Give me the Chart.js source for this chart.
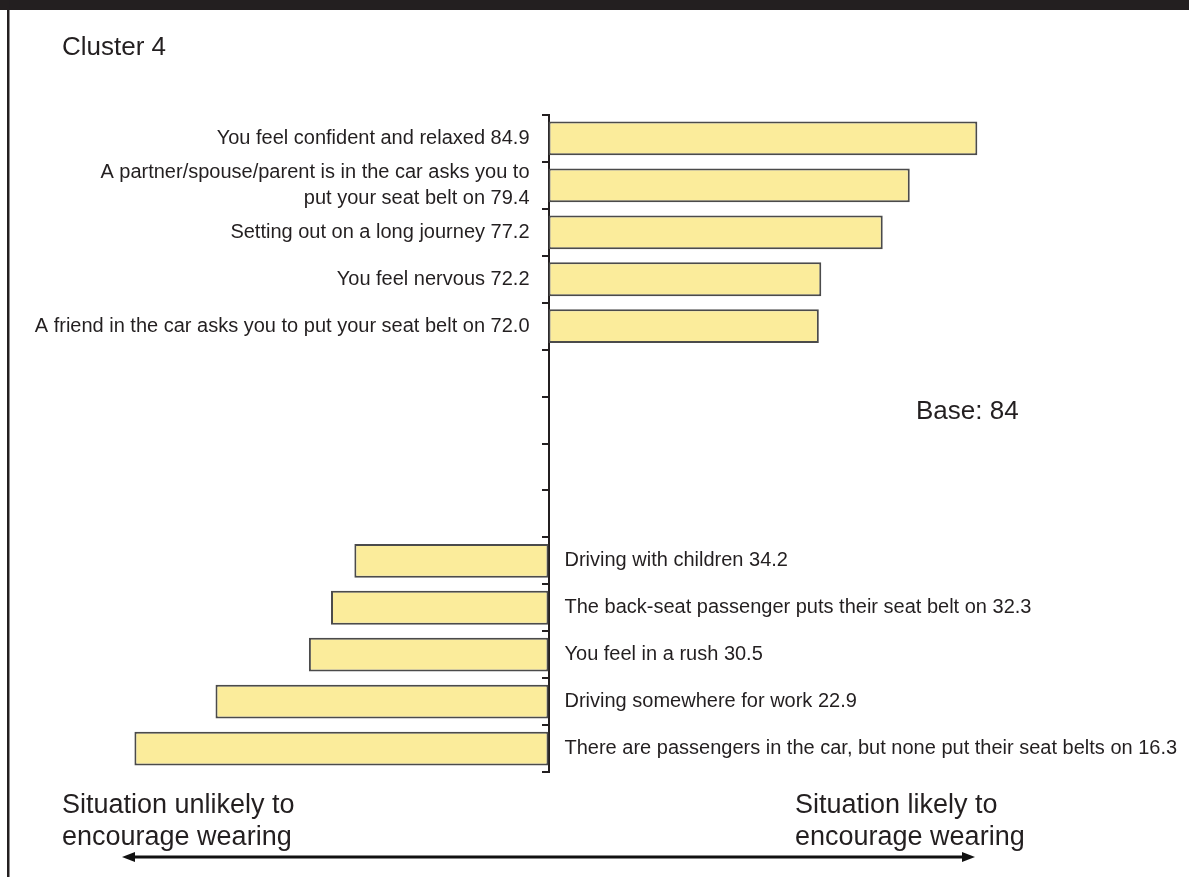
<!DOCTYPE html>
<html>
<head>
<meta charset="utf-8">
<script src="https://cdn.jsdelivr.net/npm/chart.js@4"></script>
<style>
  html, body { margin: 0; padding: 0; background: #fff; }
  #wrap { position: relative; width: 1189px; height: 877px; }
</style>
</head>
<body>
<div id="wrap"><canvas id="clusterChart"></canvas></div>
<script>
// situations that push wearing up (bars to the right of the midpoint)
const likelyLabels = [
  'You feel confident and relaxed',
  ['A partner/spouse/parent is in the car asks you to', 'put your seat belt on'],
  'Setting out on a long journey',
  'You feel nervous',
  'A friend in the car asks you to put your seat belt on',
];
const likelyValues = [84.9, 79.4, 77.2, 72.2, 72.0];

// situations that push wearing down (bars to the left of the midpoint)
const unlikelyLabels = [
  'Driving with children',
  'The back-seat passenger puts their seat belt on',
  'You feel in a rush',
  'Driving somewhere for work',
  'There are passengers in the car, but none put their seat belts on',
];
const unlikelyValues = [34.2, 32.3, 30.5, 22.9, 16.3];

const midpoint = 50;
const emptyRows = 4;

const labels = [...likelyLabels, ...Array(emptyRows).fill(''), ...unlikelyLabels];
const values = [...likelyValues, ...Array(emptyRows).fill(null), ...unlikelyValues];

const textColor = '#231f20';
const fontFamily = '"Liberation Sans", Arial, Helvetica, sans-serif';

const barLabels = {
  id: 'barLabels',
  afterDatasetsDraw(chart) {
    const ctx = chart.ctx;
    const axisX = chart.scales.x.getPixelForValue(midpoint);
    const meta = chart.getDatasetMeta(0);
    ctx.save();
    ctx.fillStyle = textColor;
    ctx.font = '20px ' + fontFamily;
    ctx.textBaseline = 'middle';
    values.forEach((v, i) => {
      if (v === null) return;
      const bar = meta.data[i];
      let lines = Array.isArray(labels[i]) ? labels[i].slice() : [labels[i]];
      lines[lines.length - 1] = lines[lines.length - 1] + ' ' + v.toFixed(1);
      const right = v > midpoint;
      ctx.textAlign = right ? 'right' : 'left';
      const x = right ? axisX - 19 : axisX + 16;
      const lineH = 26;
      const y0 = bar.y - (lines.length - 1) * lineH / 2;
      lines.forEach((line, k) => ctx.fillText(line, x, y0 + k * lineH));
    });
    ctx.restore();
  },
};

const frame = {
  id: 'frame',
  beforeDraw(chart) {
    const ctx = chart.ctx;
    ctx.save();
    ctx.fillStyle = '#fff';
    ctx.fillRect(0, 0, chart.width, chart.height);
    ctx.fillStyle = '#231f20';
    ctx.fillRect(0, 0, chart.width, 10);
    ctx.fillRect(7, 0, 2.5, chart.height);
    ctx.restore();
  },
  afterDraw(chart) {
    const ctx = chart.ctx;
    ctx.save();
    ctx.fillStyle = textColor;
    ctx.textBaseline = 'middle';
    ctx.textAlign = 'left';
    ctx.font = '26px ' + fontFamily;
    ctx.fillText('Cluster 4', 62, 48);
    ctx.fillText('Base: 84', 916, 412);
    ctx.font = '27px ' + fontFamily;
    ctx.fillText('Situation unlikely to', 62, 806);
    ctx.fillText('encourage wearing', 62, 838);
    ctx.fillText('Situation likely to', 795, 806);
    ctx.fillText('encourage wearing', 795, 838);

    // double headed arrow under the chart
    const y = 857, x1 = 122, x2 = 975;
    ctx.strokeStyle = '#111';
    ctx.fillStyle = '#111';
    ctx.lineWidth = 3;
    ctx.beginPath();
    ctx.moveTo(x1 + 10, y);
    ctx.lineTo(x2 - 10, y);
    ctx.stroke();
    ctx.beginPath();
    ctx.moveTo(x1, y);
    ctx.lineTo(x1 + 13, y - 5);
    ctx.lineTo(x1 + 13, y + 5);
    ctx.closePath();
    ctx.fill();
    ctx.beginPath();
    ctx.moveTo(x2, y);
    ctx.lineTo(x2 - 13, y - 5);
    ctx.lineTo(x2 - 13, y + 5);
    ctx.closePath();
    ctx.fill();
    ctx.restore();
  },
};

new Chart(document.getElementById('clusterChart'), {
  type: 'bar',
  data: {
    labels,
    datasets: [{
      data: values.map((v) => (v === null ? null : [midpoint, v])),
      backgroundColor: '#fbec9b',
      borderColor: '#4b4b4b',
      borderWidth: 2,
      borderSkipped: false,
      categoryPercentage: 1,
      barPercentage: 0.72,
    }],
  },
  options: {
    indexAxis: 'y',
    responsive: true,
    maintainAspectRatio: false,
    animation: false,
    layout: {
      padding: { left: 57, right: 149, top: 115, bottom: 105 },
    },
    plugins: {
      legend: { display: false },
      tooltip: { enabled: false },
      title: { display: false },
    },
    scales: {
      x: {
        type: 'linear',
        min: 10,
        max: 90,
        display: false,
      },
      y: {
        position: { x: midpoint },
        offset: true,
        ticks: { display: false },
        grid: {
          drawOnChartArea: false,
          drawTicks: true,
          tickLength: 6,
          lineWidth: 2,
          color: '#231f20',
        },
        border: { display: true, color: '#231f20', width: 2 },
      },
    },
  },
  plugins: [frame, barLabels],
});
</script>
</body>
</html>
